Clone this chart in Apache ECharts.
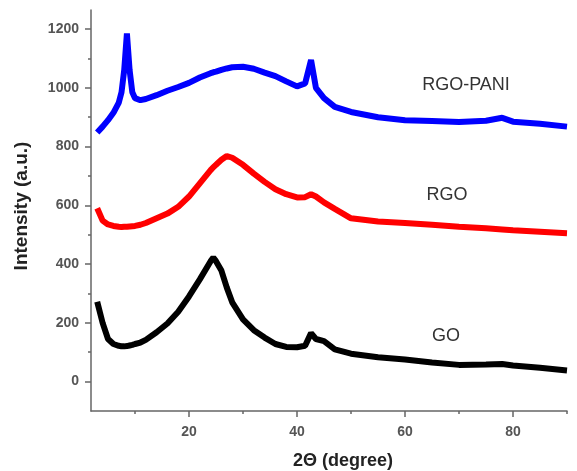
<!DOCTYPE html>
<html>
<head>
	<meta charset="UTF-8">
	<title>XRD</title>
	<style>
		html, body { margin: 0; padding: 0; background: #fff; }
		#xrd { width: 577px; height: 471px; }
	</style>
</head>
<body>
	<div id="xrd"></div>
	<script src="https://cdn.jsdelivr.net/npm/echarts/dist/echarts.min.js"></script>
	<script type="text/javascript">
		// 2θ positions (degree)
		var twoTheta = [3, 4, 5, 6, 7, 7.5, 8, 8.5, 9, 9.5, 10, 11, 12, 14, 16, 18, 20, 22, 24, 24.5, 25, 26, 27, 28,
			30, 32, 34, 36, 38, 40, 41.5, 42.6, 43.5, 45, 47, 50, 55, 60, 65, 70, 75, 78, 80, 85, 90];

		// intensity (a.u.)
		var rgoPani = [848, 868, 890, 915, 950, 985, 1060, 1185, 1060, 985, 965, 958, 962, 975, 990, 1003, 1017, 1035, 1050, 1053, 1055, 1061, 1066, 1070,
			1072, 1065, 1052, 1040, 1022, 1005, 1015, 1095, 1000, 965, 935, 918, 900, 890, 887, 884, 888, 898, 885, 878, 868];
		var rgo = [590, 548, 535, 530, 527, 526, 527, 527, 528, 529, 530, 534, 540, 556, 572, 595, 630, 675, 720, 730, 738, 755, 768, 762,
			738, 708, 680, 655, 638, 627, 628, 638, 630, 610, 588, 556, 545, 540, 534, 527, 522, 518, 515, 510, 505];
		var go = [272, 200, 145, 128, 122, 120, 120, 121, 123, 125, 128, 133, 142, 168, 198, 238, 290, 348, 410, 422, 410, 378, 320, 270,
			212, 175, 150, 128, 118, 117, 122, 165, 145, 138, 110, 95, 83, 75, 65, 57, 58, 60, 55, 47, 38];

		// axis ranges and ticks
		var xRange = [1.85, 90];
		var yRange = [-100, 1265];
		var xMajor = [20, 40, 60, 80];
		var xMinor = [10, 30, 50, 70, 90];
		var yMajor = [0, 200, 400, 600, 800, 1000, 1200];
		var yMinor = [100, 300, 500, 700, 900, 1100];

		// curve names and where their labels sit (data coords)
		var names = ['RGO-PANI', 'RGO', 'GO'];
		var labelAt = [[71.3, 1010], [67.8, 635], [67.6, 154]];

		function pairs(ys) {
			var out = [];
			for (var i = 0; i < twoTheta.length; i++) {
				out.push([twoTheta[i], ys[i]]);
			}
			return out;
		}

		var axisColor = '#666';
		var labelStyle = {
			color: '#555',
			fontSize: 14,
			fontWeight: 'bold',
			fontFamily: 'Liberation Sans, Arial, sans-serif',
			formatter: function (v) { return String(v); }
		};

		// one visible axis with labelled (long) ticks, one hidden-line axis with short ticks
		function makeAxes(range, major, minor, pos, margin) {
			return [{
				type: 'value', position: pos, offset: 0, min: range[0], max: range[1],
				axisLine: { show: true, onZero: false, lineStyle: { color: axisColor, width: 1.5 } },
				axisTick: { show: true, customValues: major, length: 6, lineStyle: { color: axisColor, width: 1.5 } },
				axisLabel: Object.assign({ customValues: major, margin: margin }, labelStyle),
				splitLine: { show: false }
			}, {
				type: 'value', position: pos, offset: 0, min: range[0], max: range[1],
				axisLine: { show: true, onZero: false, lineStyle: { color: axisColor, width: 1.5, opacity: 0 } },
				axisTick: { show: true, customValues: minor, length: 3, lineStyle: { color: axisColor, width: 1.5 } },
				axisLabel: { show: false },
				splitLine: { show: false }
			}];
		}

		var myChart = echarts.init(document.getElementById('xrd'));

		var option = {
			animation: false,
			grid: { left: 91, right: 10, top: 10, bottom: 60 },
			xAxis: makeAxes(xRange, xMajor, xMinor, 'bottom', 14),
			yAxis: makeAxes(yRange, yMajor, yMinor, 'left', 12),
			series: [{
				name: names[0],
				type: 'line',
				showSymbol: false,
				lineStyle: { color: '#0000ff', width: 6 },
				data: pairs(rgoPani)
			}, {
				name: names[1],
				type: 'line',
				showSymbol: false,
				lineStyle: { color: '#ff0000', width: 6 },
				data: pairs(rgo)
			}, {
				name: names[2],
				type: 'line',
				showSymbol: false,
				lineStyle: { color: '#000000', width: 6 },
				data: pairs(go)
			}]
		};

		myChart.setOption(option);

		// axis titles and curve labels
		var graphics = [{
			type: 'text',
			x: 343,
			y: 461,
			style: {
				text: '2Θ (degree)',
				fill: '#222',
				font: 'bold 18px Liberation Sans, Arial, sans-serif',
				textAlign: 'center',
				textVerticalAlign: 'middle'
			}
		}, {
			type: 'text',
			x: 22,
			y: 206,
			rotation: Math.PI / 2,
			style: {
				text: 'Intensity (a.u.)',
				fill: '#222',
				font: 'bold 19px Liberation Sans, Arial, sans-serif',
				textAlign: 'center',
				textVerticalAlign: 'middle'
			}
		}];
		for (var k = 0; k < names.length; k++) {
			var p = myChart.convertToPixel({ gridIndex: 0 }, labelAt[k]);
			graphics.push({
				type: 'text',
				x: p[0],
				y: p[1],
				style: {
					text: names[k],
					fill: '#333',
					font: '18px Liberation Sans, Arial, sans-serif',
					textAlign: 'center',
					textVerticalAlign: 'middle'
				}
			});
		}
		myChart.setOption({ graphic: graphics });
	</script>
</body>
</html>
